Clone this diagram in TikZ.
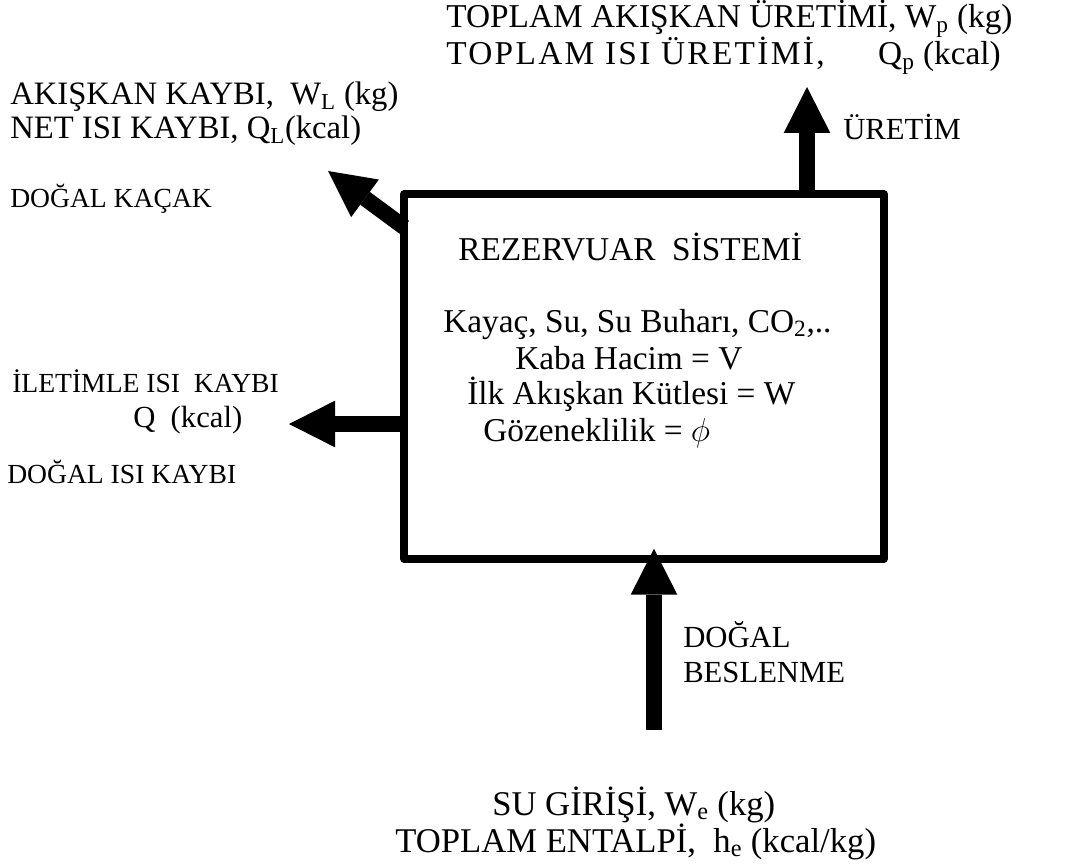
\documentclass[tikz,border=0pt]{standalone}
\usepackage{fontspec}
\IfFontExistsTF{LiberationSerif-Regular.ttf}
  {\setmainfont{LiberationSerif}[Extension=.ttf,UprightFont=*-Regular,
     BoldFont=*-Bold,ItalicFont=*-Italic,BoldItalicFont=*-BoldItalic]}
  {\setmainfont{Liberation Serif}}
\usetikzlibrary{arrows.meta,calc}
\begin{document}
\begin{tikzpicture}[x=0.75pt,y=-0.75pt,
  txt/.style={anchor=base west,inner sep=0pt},
  lbltop/.style={txt,font=\rmfamily\fontsize{25}{29}\selectfont},
  lblleft/.style={txt,font=\rmfamily\fontsize{24.5}{28}\selectfont},
  lblmid/.style={txt,font=\rmfamily\fontsize{23}{27}\selectfont},
  lblbox/.style={txt,font=\rmfamily\fontsize{25}{29}\selectfont},
  lblbot/.style={txt,font=\rmfamily\fontsize{26}{30}\selectfont},
  lblsmall/.style={txt,font=\rmfamily\fontsize{20.7}{24}\selectfont},
  fatarrow/.style={line width=12pt,
    -{Triangle[length=34.5pt,width=35pt,line width=0pt]}},
  resbox/.style={draw,line width=5.6pt,line join=round,
    minimum width=360pt,minimum height=273.75pt}]
\useasboundingbox (0,0) rectangle (1066,863);

% reservoir box
\node[resbox] (res) at (644,376.5) {};

% arrow ends
\coordinate (uptip) at (807,87);
\coordinate (lefttip) at (289,424);
\coordinate (diagtip) at (328,171);
\coordinate (bottail) at (654,730);

\draw[fatarrow] (res.north -| uptip) -- (uptip);
\draw[fatarrow] (res.west |- lefttip) -- (lefttip);
\draw[fatarrow] ($(res.north west)+(4,37)$) -- (diagtip);
\draw[fatarrow,shorten >=-10.5pt] (bottail) -- (res.south -| bottail);

% production
\node[lbltop] (prod1) at (446,28) {TOPLAM AKIŞKAN ÜRETİMİ, W\textsubscript{p} (kg)};
\node[lbltop] (prod2) at (446,65)
  {\makebox[324pt][l]{\addfontfeature{LetterSpace=7}TOPLAM ISI ÜRETİMİ,}Q\textsubscript{p} (kcal)};
\node[lblmid] (uret) at (843,140) {ÜRETİM};

% natural leakage
\node[lblleft] (leak1) at (10,105) {AKIŞKAN KAYBI, \ W\textsubscript{L} (kg)};
\node[lblleft] (leak2) at (10,139) {NET ISI KAYBI, Q\textsubscript{L}(kcal)};
\node[lblsmall] (leak3) at (10,207) {DOĞAL KAÇAK};

% conduction loss
\node[lblsmall] (cond1) at (12,392) {İLETİMLE ISI \ KAYBI};
\node[lblmid] (cond2) at (133,427) {Q \ (kcal)};
\node[lblsmall] (cond3) at (7,483) {DOĞAL ISI KAYBI};

% box contents
\node[lblbox] (t1) at (458,260) {REZERVUAR \ SİSTEMİ};
\node[lblbox] (t2) at (443,332) {Kayaç, Su, Su Buharı, CO\textsubscript{2},..};
\node[lblbox] (t3) at (515,369) {Kaba Hacim = V};
\node[lblbox] (t4) at (467,404) {İlk Akışkan Kütlesi = W};
\node[lblbox] (t5) at (483,441) {Gözeneklilik = $\phi$};

% recharge
\node[lblmid] (rech1) at (683,647) {DOĞAL};
\node[lblmid] (rech2) at (683,682) {BESLENME};
\node[lblbot] (in1) at (492,815) {SU GİRİŞİ, W\textsubscript{e} (kg)};
\node[lblbot] (in2) at (395,852) {TOPLAM ENTALPİ, \ h\textsubscript{e} (kcal/kg)};
\end{tikzpicture}
\end{document}
